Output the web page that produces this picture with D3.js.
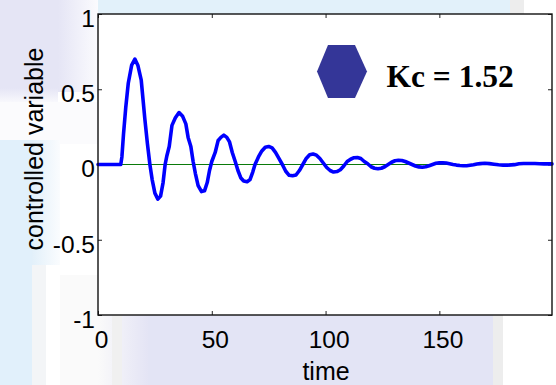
<!DOCTYPE html>
<html><head><meta charset="utf-8">
<script src="https://cdn.jsdelivr.net/npm/d3@7"></script>
<style>html,body{margin:0;padding:0;background:#fff;overflow:hidden}</style>
</head><body><svg id="c" width="556" height="385"></svg>
<script>
// ---- data ----
const time = [0,10,10.5,11.2,12.2,13.3,14.8,16.2,17.5,19.0,19.8,20.6,21.7,22.8,23.8,25.0,26.3,27.5,28.6,29.5,30.3,31.3,32.5,34.0,35.6,37.2,38.6,39.6,40.8,41.8,42.8,44.0,45.5,46.8,48.0,49.0,50.0,51.5,52.8,54.0,55.3,56.6,57.8,59.0,60.3,61.5,62.8,64.0,65.5,66.8,68.0,69.0,70.5,72.0,73.5,75.0,76.5,78.0,79.5,81.0,82.5,84.0,85.5,87.0,88.5,90.0,91.5,93.0,94.5,96.0,97.5,99.0,100.5,102,103.5,105,106.5,108,109.5,111,112.5,114,115.5,117,118.5,120,121.5,123,124.5,126,127.5,129,130.5,132,133.5,135,136.5,138,139.5,141,142.5,144,145.5,147,148.5,150,151.5,153,154.5,156,157.5,159,160.5,162,163.5,165,166.5,168,170,172,174,176,178,180,183,185,187,190,192,194,196,199.5];
const response = [0,0,0.05,0.2,0.38,0.54,0.66,0.70,0.66,0.56,0.43,0.30,0.14,0.0,-0.10,-0.19,-0.23,-0.21,-0.12,0.0,0.06,0.12,0.26,0.31,0.345,0.32,0.27,0.18,0.12,0.02,-0.06,-0.14,-0.18,-0.175,-0.12,-0.04,0.02,0.08,0.16,0.18,0.195,0.18,0.15,0.08,0.02,-0.04,-0.09,-0.11,-0.115,-0.10,-0.05,0.0,0.05,0.09,0.115,0.12,0.11,0.08,0.04,0.0,-0.045,-0.072,-0.075,-0.07,-0.04,0.0,0.04,0.065,0.07,0.062,0.04,0.01,-0.02,-0.04,-0.05,-0.047,-0.035,-0.01,0.02,0.035,0.045,0.047,0.04,0.02,0.005,-0.015,-0.025,-0.028,-0.025,-0.015,0.0,0.015,0.025,0.028,0.027,0.02,0.01,0.0,-0.01,-0.016,-0.018,-0.015,-0.008,0.0,0.008,0.011,0.012,0.01,0.005,0.0,-0.004,-0.007,-0.008,-0.008,-0.005,-0.002,0.003,0.006,0.008,0.006,0.002,-0.002,-0.004,-0.004,-0.001,0.005,0.007,0.007,0.007,0.005,0.004,0.004];
const setpointTime = [0, 199.5];
const setpointValue = [0, 0];
const xDomain = [0, 199.5];
const yDomain = [-1, 1];
const xTicks = [0, 50, 100, 150];
const yTicks = [-1, -0.5, 0, 0.5, 1];
const yTickLabels = ["-1", "-0.5", "0", "0.5", "1"];
const xLabel = "time";
const yLabel = "controlled variable";
const annotation = "Kc = 1.52";

// ---- layout ----
const svg = d3.select('#c');
const m = {left:98, top:14, right:552, bottom:315};
const x = d3.scaleLinear().domain(xDomain).range([m.left, m.right]);
const y = d3.scaleLinear().domain(yDomain).range([m.bottom, m.top]);

// ---- decorative slide background ----
const defs = svg.append('defs');
function hgrad(id, c1, c2){
  const g = defs.append('linearGradient').attr('id', id).attr('x1','0').attr('x2','1').attr('y1','0').attr('y2','0');
  g.append('stop').attr('offset','0').attr('stop-color', c1);
  g.append('stop').attr('offset','1').attr('stop-color', c2);
}
function vgrad(id, c1, c2){
  const g = defs.append('linearGradient').attr('id', id).attr('x1','0').attr('x2','0').attr('y1','0').attr('y2','1');
  g.append('stop').attr('offset','0').attr('stop-color', c1);
  g.append('stop').attr('offset','1').attr('stop-color', c2);
}
hgrad('lavFade', '#e5e5f5', '#fbfbfe');
hgrad('blueFade', '#e2f0fa', '#fafcfe');
hgrad('botFade', '#fafafa', '#e4e4f5');
vgrad('lavDown', '#e5e5f5', '#f8f8fc');
const bg = svg.append('g');
const rects = [
  [0,0,556,385,'#ffffff'],
  [0,0,58,88,'#e5e5f5'],
  [58,0,40,92,'url(#lavFade)'],
  [0,88,58,14,'url(#lavDown)'],
  [0,102,98,42,'#fbfbfd'],
  [0,140,32,245,'#e1f0fb'],
  [32,140,28,125,'url(#blueFade)'],
  [32,265,14,120,'#f3f5f7'],
  [60,275,38,110,'#fafafa'],
  [98,0,412,14,'#e2f1fa'],
  [510,0,14,14,'#ededed'],
  [98,315,50,70,'url(#botFade)'],
  [112,315,10,70,'#f0f0f0'],
  [148,315,345,70,'#e3e4f5'],
  [493,315,10,70,'#ededed'],
];
bg.selectAll('rect').data(rects).join('rect')
  .attr('x', d=>d[0]).attr('y', d=>d[1]).attr('width', d=>d[2]).attr('height', d=>d[3]).attr('fill', d=>d[4]);

// ---- plot area ----
svg.append('rect').attr('x', m.left).attr('y', m.top)
  .attr('width', m.right-m.left).attr('height', m.bottom-m.top).attr('fill', '#fff');

const tickFont = 'Liberation Sans, Arial, Helvetica, sans-serif';

// bottom axis
const gx = svg.append('g').attr('transform', `translate(0,${m.bottom})`)
  .call(d3.axisBottom(x).tickValues(xTicks).tickSize(-4).tickPadding(16).tickFormat(d3.format('d')));
gx.selectAll('text').attr('dx', 3);
// top axis
const gt = svg.append('g').attr('transform', `translate(0,${m.top})`)
  .call(d3.axisTop(x).tickValues(xTicks).tickSize(-4).tickFormat(''));
// left axis
const gy = svg.append('g').attr('transform', `translate(${m.left},0)`)
  .call(d3.axisLeft(y).tickValues(yTicks).tickSize(-4).tickPadding(3).tickFormat((d,i)=>yTickLabels[i]));
gy.selectAll('text').attr('dy', '0.5em');
// right axis
const gr = svg.append('g').attr('transform', `translate(${m.right},0)`)
  .call(d3.axisRight(y).tickValues(yTicks).tickSize(-4).tickFormat(''));

[gx, gt, gy, gr].forEach(g => {
  g.select('.domain').remove();
  g.selectAll('line').attr('stroke', '#222').attr('stroke-width', 1);
  g.selectAll('text').attr('font-family', tickFont).attr('font-size', 24.5).attr('fill', '#000');
});

// setpoint line
const line = d3.line().x(d=>x(d[0])).y(d=>y(d[1]));
svg.append('path').datum(setpointTime.map((t,i)=>[t, setpointValue[i]]))
  .attr('d', line).attr('fill','none').attr('stroke','#0a7a0a').attr('stroke-width', 1.2);

// response
svg.append('path').datum(time.map((t,i)=>[t, response[i]]))
  .attr('d', line).attr('fill','none').attr('stroke','#0000ff')
  .attr('stroke-width', 3.6).attr('stroke-linejoin','round').attr('stroke-linecap','round');

// box
svg.append('rect').attr('x', m.left).attr('y', m.top)
  .attr('width', m.right-m.left).attr('height', m.bottom-m.top)
  .attr('fill','none').attr('stroke','#111').attr('stroke-width', 1.4);

// labels
svg.append('text').attr('x', 326).attr('y', 380).attr('text-anchor','middle')
  .attr('font-family', tickFont).attr('font-size', 25).attr('fill','#000').text(xLabel);
svg.append('text').attr('transform', 'translate(43,149) rotate(-90)').attr('text-anchor','middle')
  .attr('font-family', tickFont).attr('font-size', 25).attr('fill','#000').text(yLabel);

// annotation: hexagon + text
const hx = 342, hy = 71.5, hw = 25, hh = 26.5;
const hex = [[hx-hw,hy],[hx-hw+11,hy-hh],[hx+hw-12,hy-hh],[hx+hw,hy],[hx+hw-12,hy+hh],[hx-hw+11,hy+hh]];
svg.append('path').attr('d', 'M' + hex.map(p=>p.join(',')).join('L') + 'Z').attr('fill', '#343698');
svg.append('text').attr('x', 386.5).attr('y', 86.5)
  .attr('font-family', 'Liberation Serif, Times New Roman, serif').attr('font-weight', 'bold')
  .attr('font-size', 31.5).attr('fill', '#000').text(annotation);
</script>
</body></html>
